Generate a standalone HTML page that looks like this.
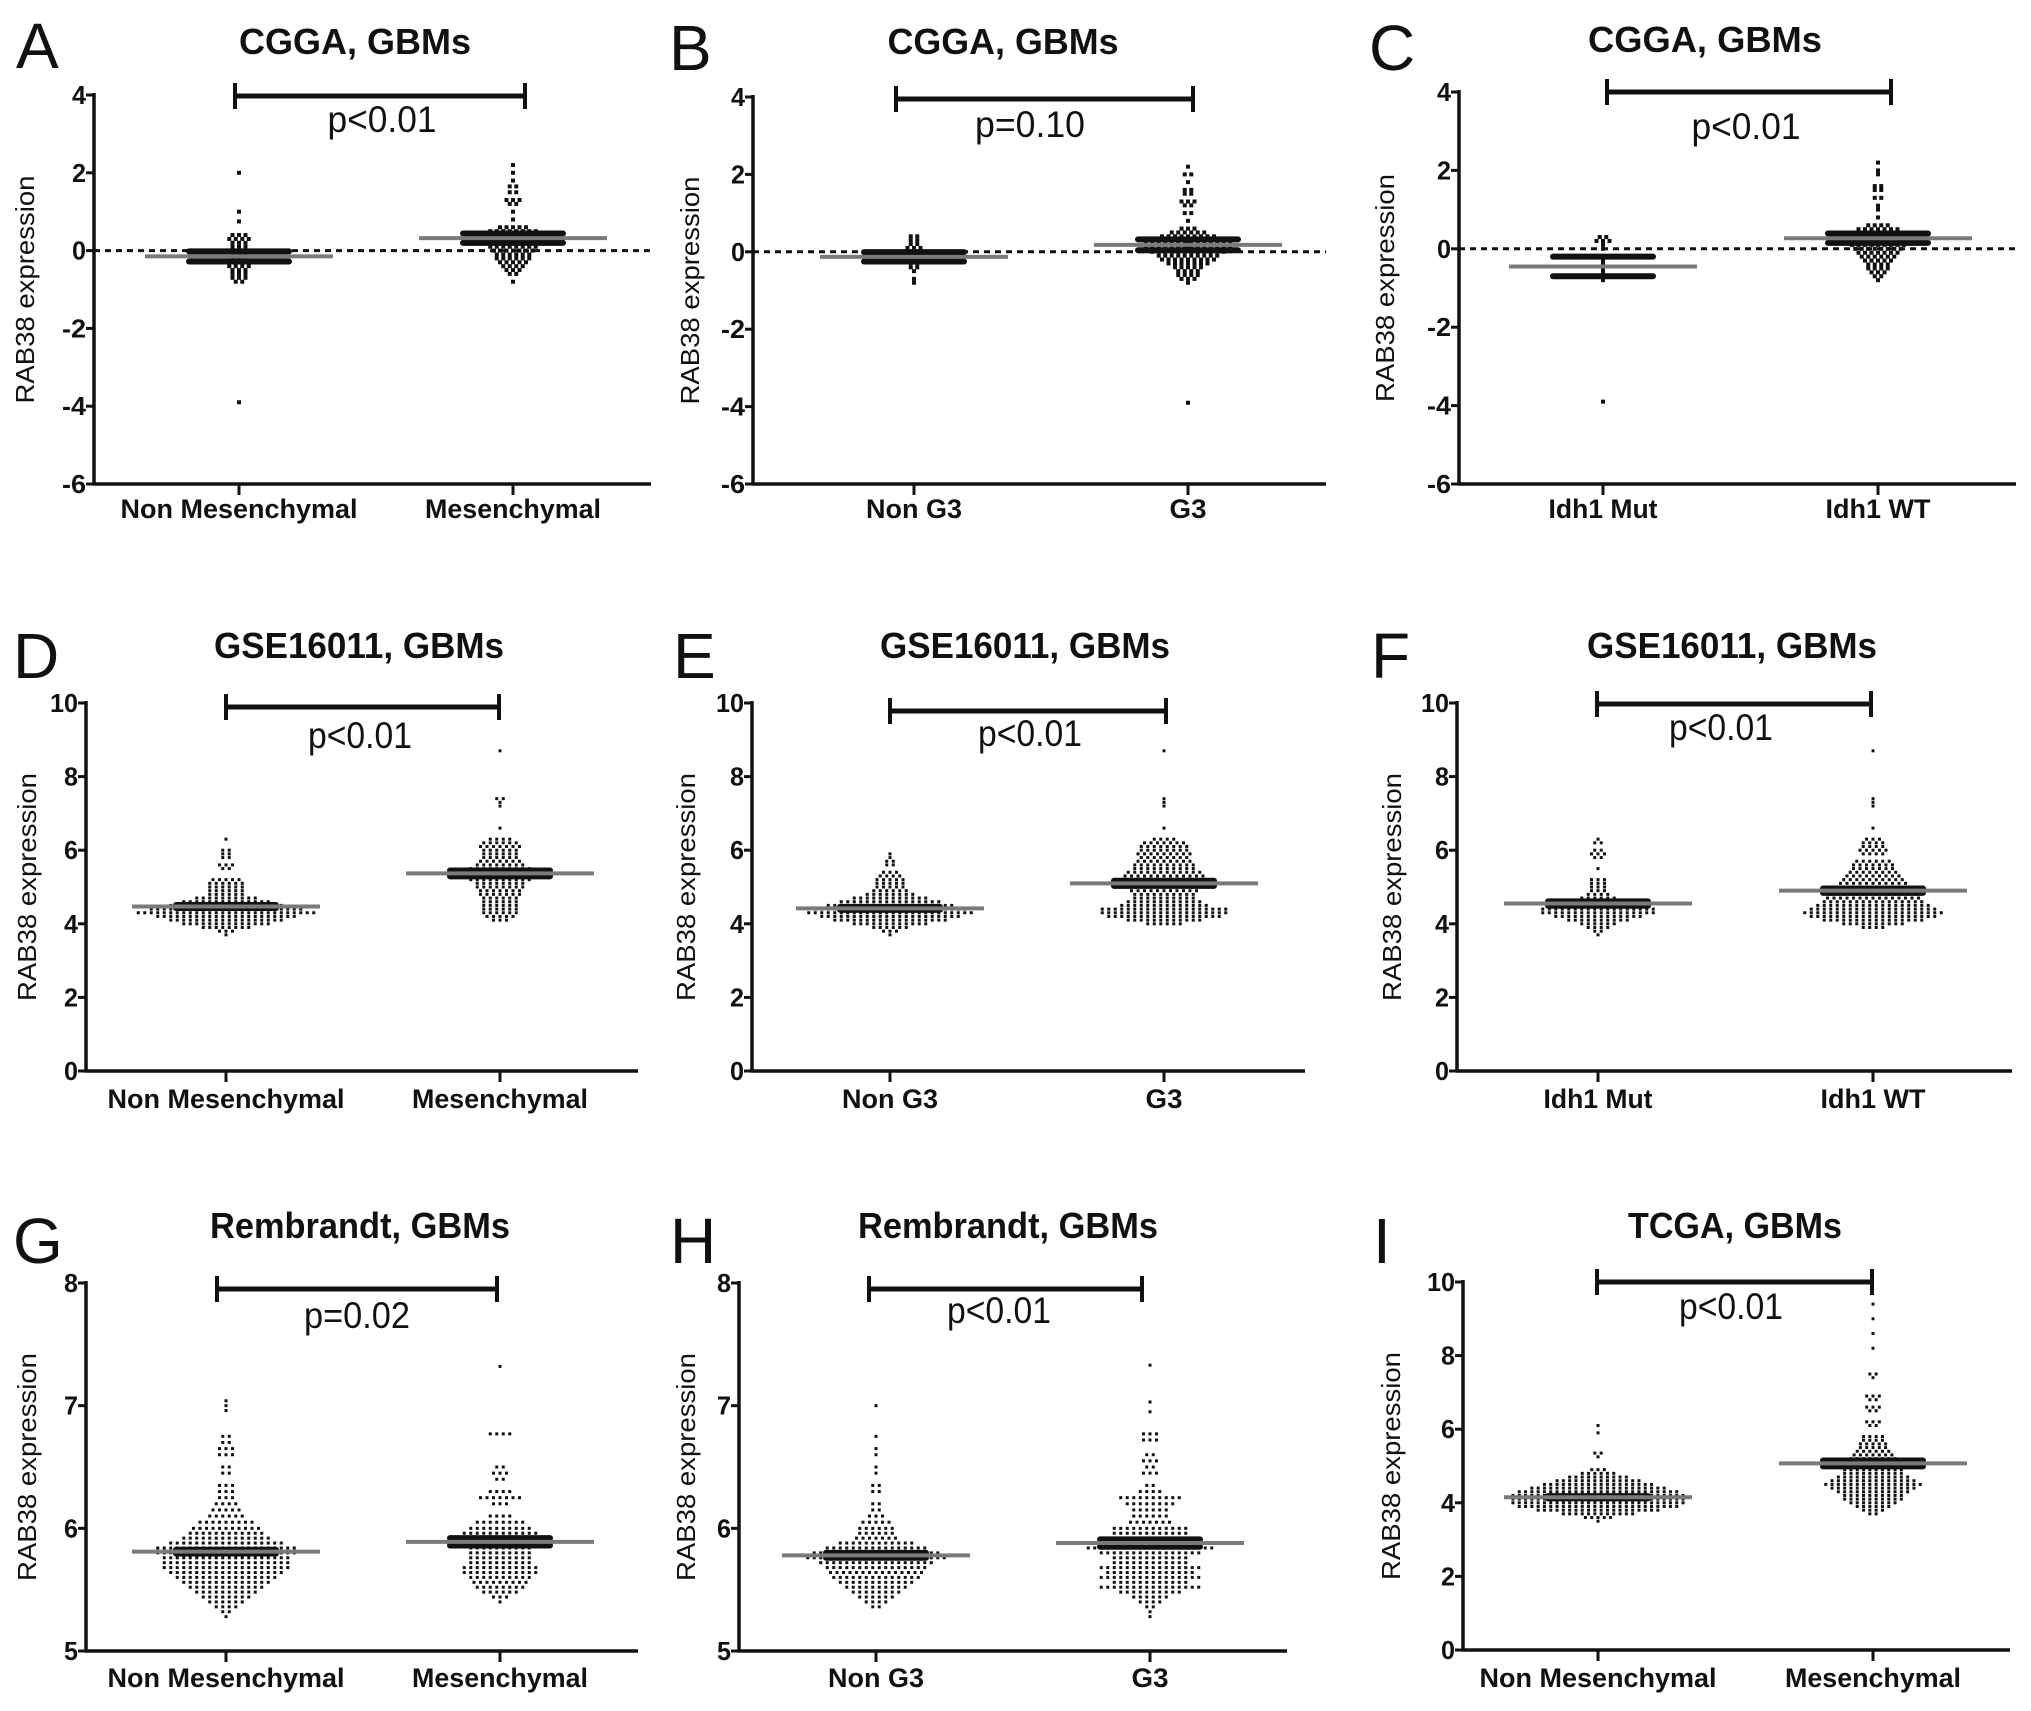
<!DOCTYPE html>
<html><head><meta charset="utf-8"><style>
html,body{margin:0;padding:0;background:#fff;}
svg{display:block;}
</style></head><body>
<svg id="fig" width="2031" height="1711" viewBox="0 0 2031 1711" xmlns="http://www.w3.org/2000/svg"></svg>
<script>
// ---------- data ----------
const aNonVals=[2.0,1.0,0.75,0.4,0.3,0.2,0.1,0.0,-0.1,-0.2,-0.3,-0.4,-0.5,-0.6,-0.7,-0.8,-3.9];
const aNonCnts=[1,1,1,3,4,3,3,5,3,3,3,4,3,3,3,2,1];
const aMesVals=[2.2,2.0,1.8,1.65,1.5,1.3,1.2,1.0,0.8,0.6,0.5,0.4,0.3,0.2,0.1,0.0,-0.1,-0.2,-0.3,-0.4,-0.5,-0.6,-0.8];
const aMesCnts=[1,1,1,2,2,3,2,1,1,5,8,10,10,9,8,7,6,6,5,4,3,2,1];
const bNonVals=[0.4,0.3,0.2,0.1,0.0,-0.1,-0.2,-0.3,-0.4,-0.5,-0.7,-0.8];
const bNonCnts=[2,2,2,3,4,4,3,2,2,1,1,1];
const bG3Vals=[2.2,2.0,1.8,1.6,1.5,1.3,1.2,1.0,0.8,0.6,0.5,0.4,0.3,0.2,0.1,0.0,-0.1,-0.2,-0.3,-0.4,-0.5,-0.6,-0.7,-0.8,-3.9];
const bG3Cnts=[1,2,1,2,2,3,2,2,1,3,6,9,12,14,14,12,10,9,7,5,4,4,3,1,1];
const cMutVals=[0.3,0.2,0.1,0.0,-0.2,-0.5,-0.7,-0.8,-3.9];
const cMutCnts=[2,3,1,1,1,1,1,1,1];
const cWtVals=[2.2,2.0,1.9,1.6,1.5,1.3,1.1,1.0,0.8,0.6,0.5,0.4,0.3,0.2,0.1,0.0,-0.1,-0.2,-0.3,-0.4,-0.5,-0.6,-0.7,-0.8];
const cWtCnts=[1,1,1,2,2,2,1,1,1,4,7,9,10,10,9,8,7,6,5,4,4,3,2,1];
const dNonVals=[6.3,6.0,5.9,5.8,5.6,5.5,5.2,5.1,5.0,4.9,4.8,4.7,4.6,4.5,4.4,4.3,4.2,4.1,4.0,3.9,3.8,3.7];
const dNonCnts=[1,2,2,2,3,2,5,6,6,6,6,10,14,18,24,28,22,18,14,8,3,1];
const dMesVals=[8.7,7.4,7.3,7.2,6.6,6.3,6.2,6.1,6.0,5.9,5.8,5.7,5.6,5.5,5.4,5.3,5.2,5.1,5.0,4.9,4.8,4.7,4.6,4.5,4.4,4.3,4.2,4.1];
const dMesCnts=[1,2,1,1,1,4,6,7,6,6,6,7,8,10,12,12,10,8,8,7,7,6,6,6,6,6,5,3];
const eNonVals=[5.9,5.8,5.7,5.6,5.4,5.3,5.2,5.1,5.0,4.9,4.8,4.7,4.6,4.5,4.4,4.3,4.2,4.1,4.0,3.9,3.8,3.7];
const eNonCnts=[1,1,2,2,3,4,5,5,5,6,8,12,16,20,24,26,22,18,12,6,3,1];
const eG3Vals=[8.7,7.4,7.3,7.2,6.6,6.3,6.2,6.1,6.0,5.9,5.8,5.7,5.6,5.5,5.4,5.3,5.2,5.1,5.0,4.9,4.8,4.7,4.6,4.5,4.4,4.3,4.2,4.1,4.0];
const eG3Cnts=[1,1,1,1,1,4,7,8,8,9,8,9,10,10,12,13,14,14,12,11,10,10,12,14,20,20,18,12,6];
const fMutVals=[6.3,6.2,6.0,5.9,5.8,5.5,5.2,5.1,5.0,4.9,4.8,4.7,4.6,4.5,4.4,4.3,4.2,4.1,4.0,3.9,3.8,3.7];
const fMutCnts=[1,2,2,3,2,1,3,3,3,3,4,6,10,14,18,18,14,10,6,4,2,1];
const fWtVals=[8.7,7.4,7.3,7.2,6.6,6.3,6.2,6.1,6.0,5.9,5.7,5.6,5.5,5.4,5.3,5.2,5.1,5.0,4.9,4.8,4.7,4.6,4.5,4.4,4.3,4.2,4.1,4.0,3.9];
const fWtCnts=[1,1,1,1,1,3,4,4,5,4,6,7,7,8,9,10,11,12,13,14,15,16,18,20,22,20,16,10,4];
const gNonVals=[7.04,7.0,6.96,6.75,6.7,6.65,6.6,6.5,6.45,6.35,6.3,6.25,6.2,6.15,6.1,6.05,6.0,5.96,5.92,5.88,5.84,5.8,5.76,5.72,5.68,5.64,5.6,5.56,5.52,5.48,5.44,5.4,5.36,5.32,5.28];
const gNonCnts=[1,1,1,2,2,3,3,2,2,3,3,3,4,5,6,9,11,12,14,18,22,22,20,20,20,18,16,14,12,10,8,6,4,2,1];
const gMesVals=[7.32,6.77,6.5,6.45,6.4,6.3,6.25,6.2,6.1,6.05,6.0,5.96,5.92,5.88,5.84,5.8,5.76,5.72,5.68,5.64,5.6,5.56,5.52,5.48,5.44,5.4];
const gMesCnts=[1,4,2,3,2,4,7,3,4,8,10,12,14,12,10,10,10,10,12,12,10,9,8,6,3,1];
const hNonVals=[7.0,6.75,6.65,6.6,6.5,6.45,6.35,6.3,6.2,6.15,6.1,6.05,6.0,5.96,5.92,5.88,5.84,5.8,5.76,5.72,5.68,5.64,5.6,5.56,5.52,5.48,5.44,5.4,5.36];
const hNonCnts=[1,1,1,1,1,1,2,2,2,2,3,5,6,6,7,12,16,20,22,18,16,15,14,12,10,8,6,4,2];
const hG3Vals=[7.33,7.03,6.95,6.77,6.72,6.6,6.55,6.5,6.45,6.35,6.3,6.25,6.2,6.15,6.1,6.05,6.0,5.96,5.92,5.88,5.84,5.8,5.76,5.72,5.68,5.64,5.6,5.56,5.52,5.48,5.44,5.4,5.36,5.32,5.28];
const hG3Cnts=[1,1,1,3,3,2,3,2,3,2,4,10,8,6,6,7,12,12,14,18,20,16,12,12,16,14,16,12,16,10,6,4,2,1,1];
const iNonVals=[6.1,5.9,5.35,5.25,4.9,4.8,4.7,4.6,4.5,4.4,4.3,4.2,4.1,4.0,3.9,3.8,3.7,3.6,3.5];
const iNonCnts=[1,1,2,1,3,6,10,14,18,22,26,28,28,28,26,20,12,5,1];
const iMesVals=[9.4,9.0,8.6,8.2,7.5,7.4,6.9,6.8,6.6,6.5,6.2,6.1,5.8,5.7,5.6,5.5,5.4,5.3,5.2,5.1,5.0,4.9,4.8,4.7,4.6,4.5,4.4,4.3,4.2,4.1,4.0,3.9,3.8,3.7];
const iMesCnts=[1,1,1,1,2,1,3,2,3,2,3,2,4,4,5,5,6,7,8,9,10,10,10,12,14,16,14,12,10,10,8,6,4,2];
const groupMeans=[[-0.15,0.32],[-0.13,0.18],[-0.45,0.27],[4.47,5.37],[4.42,5.10],[4.55,4.90],[5.81,5.89],[5.78,5.88],[4.15,5.07]];
const groupSems=[[0.13,0.12],[0.12,0.14],[0.25,0.12],[0.04,0.08],[0.04,0.07],[0.06,0.06],[0.015,0.03],[0.02,0.03],[0.03,0.08]];
const pLabels=["p<0.01","p=0.10","p<0.01","p<0.01","p<0.01","p<0.01","p=0.02","p<0.01","p<0.01"];
const titles=["CGGA, GBMs","CGGA, GBMs","CGGA, GBMs","GSE16011, GBMs","GSE16011, GBMs","GSE16011, GBMs","Rembrandt, GBMs","Rembrandt, GBMs","TCGA, GBMs"];
const catLabels=[["Non Mesenchymal","Mesenchymal"],["Non G3","G3"],["Idh1 Mut","Idh1 WT"],["Non Mesenchymal","Mesenchymal"],["Non G3","G3"],["Idh1 Mut","Idh1 WT"],["Non Mesenchymal","Mesenchymal"],["Non G3","G3"],["Non Mesenchymal","Mesenchymal"]];
const cggaTicks=[4,2,0,-2,-4,-6];
const gseTicks=[10,8,6,4,2,0];
const remTicks=[8,7,6,5];
const groupVals=[[aNonVals,aMesVals],[bNonVals,bG3Vals],[cMutVals,cWtVals],[dNonVals,dMesVals],[eNonVals,eG3Vals],[fMutVals,fWtVals],[gNonVals,gMesVals],[hNonVals,hG3Vals],[iNonVals,iMesVals]];
const groupCnts=[[aNonCnts,aMesCnts],[bNonCnts,bG3Cnts],[cMutCnts,cWtCnts],[dNonCnts,dMesCnts],[eNonCnts,eG3Cnts],[fMutCnts,fWtCnts],[gNonCnts,gMesCnts],[hNonCnts,hG3Cnts],[iNonCnts,iMesCnts]];

// ---------- layout ----------
const layout=[
 {L:"A",ax:94,top:95,bot:484,end:651,c:[239,513],ymin:-6,ymax:4,ticks:cggaTicks,tx:355,ty:54,tw:232,lx:16,ly:68,b:[235,525,96],px:382,py:132,pw:109,yl:25,cy:518,zero:true,dot:4,sp:6.5},
 {L:"B",ax:753,top:97,bot:484,end:1326,c:[914,1188],ymin:-6,ymax:4,ticks:cggaTicks,tx:1003,ty:54,tw:231,lx:669,ly:70,b:[896,1193,99],px:1030,py:137,pw:110,yl:690,cy:518,zero:true,dot:4,sp:6.5},
 {L:"C",ax:1459,top:92,bot:484,end:2016,c:[1603,1878],ymin:-6,ymax:4,ticks:cggaTicks,tx:1705,ty:52,tw:234,lx:1369,ly:70,b:[1607,1891,92],px:1746,py:139,pw:109,yl:1385,cy:518,zero:true,dot:4,sp:6.5},
 {L:"D",ax:86,top:703,bot:1071,end:638,c:[226,500],ymin:0,ymax:10,ticks:gseTicks,tx:359,ty:658,tw:290,lx:13,ly:678,b:[226,499,707],px:360,py:748,pw:104,yl:27,cy:1108,zero:false,dot:3,sp:6.5},
 {L:"E",ax:752,top:703,bot:1071,end:1305,c:[890,1164],ymin:0,ymax:10,ticks:gseTicks,tx:1025,ty:658,tw:290,lx:673,ly:678,b:[890,1166,711],px:1030,py:746,pw:104,yl:686,cy:1108,zero:false,dot:3,sp:6.5},
 {L:"F",ax:1457,top:703,bot:1071,end:2012,c:[1598,1873],ymin:0,ymax:10,ticks:gseTicks,tx:1732,ty:658,tw:290,lx:1371,ly:678,b:[1597,1871,704],px:1721,py:740,pw:104,yl:1392,cy:1108,zero:false,dot:3,sp:6.5},
 {L:"G",ax:86,top:1283,bot:1651,end:638,c:[226,500],ymin:5,ymax:8,ticks:remTicks,tx:360,ty:1238,tw:300,lx:13,ly:1263,b:[217,497,1289],px:357,py:1328,pw:106,yl:27,cy:1687,zero:false,dot:3,sp:6.5},
 {L:"H",ax:739,top:1283,bot:1651,end:1287,c:[876,1150],ymin:5,ymax:8,ticks:remTicks,tx:1008,ty:1238,tw:300,lx:670,ly:1263,b:[869,1142,1289],px:999,py:1323,pw:104,yl:686,cy:1687,zero:false,dot:3,sp:6.5},
 {L:"I",ax:1463,top:1282,bot:1650,end:2010,c:[1598,1873],ymin:0,ymax:10,ticks:gseTicks,tx:1735,ty:1238,tw:214,lx:1373,ly:1263,b:[1597,1872,1282],px:1731,py:1319,pw:104,yl:1391,cy:1687,zero:false,dot:3,sp:6.3}
];
const catW={"Non Mesenchymal":237,"Mesenchymal":176,"Non G3":96,"G3":37,"Idh1 Mut":109,"Idh1 WT":105};

const NS="http://www.w3.org/2000/svg";
const svg=document.getElementById('fig');
function mk(tag,attrs,parent){const e=document.createElementNS(NS,tag);for(const k in attrs)e.setAttribute(k,attrs[k]);(parent||svg).appendChild(e);return e;}
const SANS='"Liberation Sans", Arial, sans-serif';

layout.forEach((P,pi)=>{
  const g=mk('g',{});
  
  
  const yS=v=>P.bot-(v-P.ymin)/(P.ymax-P.ymin)*(P.bot-P.top);

  const letter=mk('text',{x:P.lx,y:P.ly,'font-family':SANS,'font-size':64,fill:'#111'},g);
  letter.textContent=P.L;
  
  

  const t=mk('text',{x:P.tx,y:P.ty,'text-anchor':'middle','font-family':SANS,'font-weight':'bold','font-size':36,fill:'#111',textLength:P.tw,lengthAdjust:'spacingAndGlyphs'},g);
  t.textContent=titles[pi];
  
  

  const ya=mk('line',{x1:P.ax,y1:P.top-2,x2:P.ax,y2:P.bot+1.5,stroke:'#111','stroke-width':3.5},g);
  
  
  const xa=mk('line',{x1:P.ax-1.5,y1:P.bot,x2:P.end,y2:P.bot,stroke:'#111','stroke-width':3.5},g);
  
  
  P.ticks.forEach(tv=>{
    const y=yS(tv);
    const tk=mk('line',{x1:P.ax-8,y1:y,x2:P.ax,y2:y,stroke:'#111','stroke-width':3},g);
    
    
    const s=String(tv);
    let w=0;for(const ch of s)w+=(ch==='-'?10:14);
    const tl=mk('text',{x:P.ax-8,y:y+9,'text-anchor':'end','font-family':SANS,'font-weight':'bold','font-size':26,fill:'#111',textLength:w,lengthAdjust:'spacingAndGlyphs'},g);
    tl.textContent=s;
    
    
  });
  const yl=mk('text',{x:0,y:0,transform:`translate(${P.yl+9},${(P.top+P.bot)/2}) rotate(-90)`,'text-anchor':'middle','font-family':SANS,'font-size':26,fill:'#111',textLength:228,lengthAdjust:'spacingAndGlyphs'},g);
  yl.textContent='RAB38 expression';
  
  

  if(P.zero){
    const z=mk('line',{x1:P.ax,y1:yS(0),x2:P.end,y2:yS(0),stroke:'#111','stroke-width':3,'stroke-dasharray':'6 5'},g);
    
    
  }

  for(let k=0;k<2;k++){
    const cx=P.c[k];
    const ct=mk('line',{x1:cx,y1:P.bot,x2:cx,y2:P.bot+11,stroke:'#111','stroke-width':3},g);
    
    
    const lbl=catLabels[pi][k];
    const cl=mk('text',{x:cx,y:P.cy,'text-anchor':'middle','font-family':SANS,'font-weight':'bold','font-size':27,fill:'#111',textLength:catW[lbl],lengthAdjust:'spacingAndGlyphs'},g);
    cl.textContent=lbl;
    
    

    const vals=groupVals[pi][k], cnts=groupCnts[pi][k];
    const sp=P.sp;
    const dg=mk('g',{},g);
    
    
    vals.forEach((v,j)=>{
      const n=cnts[j], y=yS(v);
      for(let i=0;i<n;i++){
        const x=cx+(i-(n-1)/2)*sp;
        const d=mk('rect',{x:x-P.dot/2,y:y-P.dot/2,width:P.dot,height:P.dot,fill:'#111'},dg);
        
        
      }
    });
    const m=groupMeans[pi][k], se=groupSems[pi][k];
    const yh=yS(m+se), yl2=yS(m-se);
    const sv=mk('line',{x1:cx,y1:yh,x2:cx,y2:yl2,stroke:'#111','stroke-width':4},g);
    
    
    [yh,yl2].forEach(yy=>{
      const sl=mk('line',{x1:cx-50,y1:yy,x2:cx+50,y2:yy,stroke:'#111','stroke-width':6,'stroke-linecap':'round'},g);
      
      
    });
    const ml=mk('line',{x1:cx-94,y1:yS(m),x2:cx+94,y2:yS(m),stroke:'#7a7a7a','stroke-width':4},g);
    
    
  }

  const [b1,b2,by]=P.b;
  const bg=mk('g',{},g);
  
  
  mk('line',{x1:b1,y1:by,x2:b2,y2:by,stroke:'#111','stroke-width':5},bg);
  mk('line',{x1:b1,y1:by-13,x2:b1,y2:by+13,stroke:'#111','stroke-width':4},bg);
  mk('line',{x1:b2,y1:by-13,x2:b2,y2:by+13,stroke:'#111','stroke-width':4},bg);
  const pt=mk('text',{x:P.px,y:P.py,'text-anchor':'middle','font-family':SANS,'font-size':37,fill:'#111',textLength:P.pw,lengthAdjust:'spacingAndGlyphs'},g);
  pt.textContent=pLabels[pi];
  
  
});
</script>
</body></html>
